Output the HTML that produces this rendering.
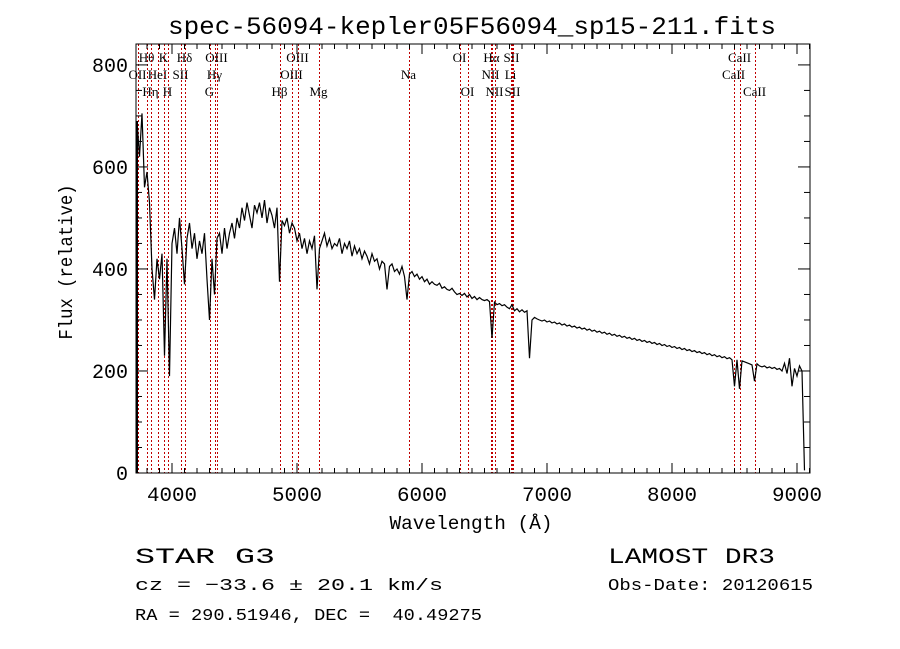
<!DOCTYPE html>
<html><head><meta charset="utf-8"><style>
html,body{margin:0;padding:0;background:#fff;width:900px;height:649px;overflow:hidden}
svg{display:block}
.m{font-family:"Liberation Mono",monospace}
.s{font-family:"Liberation Serif",serif}
</style></head><body>
<svg id="chart" width="900" height="649" viewBox="0 0 900 649">
<rect width="900" height="649" fill="#fff"/>
<text class="m" x="472" y="34" font-size="25" text-anchor="middle" textLength="608" lengthAdjust="spacingAndGlyphs">spec-56094-kepler05F56094_sp15-211.fits</text>
<g id="lines"></g>
<g id="axes"></g>
<g id="series"></g>
<text class="m" x="471" y="529" font-size="19" text-anchor="middle" textLength="163" lengthAdjust="spacingAndGlyphs">Wavelength (Å)</text>
<text class="m" transform="translate(72,262) rotate(-90)" font-size="19" text-anchor="middle" textLength="155" lengthAdjust="spacingAndGlyphs">Flux (relative)</text>
<text class="m" x="135" y="563" font-size="22" textLength="140" lengthAdjust="spacingAndGlyphs">STAR   G3</text>
<text class="m" x="608" y="563" font-size="22" textLength="167" lengthAdjust="spacingAndGlyphs">LAMOST DR3</text>
<text class="m" x="135" y="590" font-size="17" textLength="308" lengthAdjust="spacingAndGlyphs">cz = −33.6 ± 20.1 km/s</text>
<text class="m" x="608" y="590" font-size="17" textLength="205" lengthAdjust="spacingAndGlyphs">Obs-Date: 20120615</text>
<text class="m" x="135" y="620" font-size="17" textLength="347" lengthAdjust="spacingAndGlyphs" xml:space="preserve">RA = 290.51946, DEC =  40.49275</text>
</svg>
<script>
const startWave = 3720;
const waveStep = 20;
const flux = [
690,620,705,560,590,530,400,340,420,380,
430,230,420,190,450,480,430,500,440,370,
460,490,440,470,420,455,430,470,380,300,
420,350,460,470,430,480,440,470,490,460,
500,480,520,495,530,505,480,525,510,530,
500,535,490,520,505,480,520,375,495,485,
500,470,490,480,455,470,440,460,430,455,
440,465,360,440,455,470,445,460,440,450,
445,460,430,450,440,455,425,445,430,440,
420,435,425,410,430,415,420,400,415,410,
360,405,410,395,400,390,405,385,340,390,
395,385,390,380,385,375,380,370,375,370,
368,372,362,365,360,358,362,355,350,352,
348,352,345,350,342,346,340,344,340,338,
340,336,265,335,330,332,328,330,325,322,
330,318,322,316,320,315,318,225,300,305,
302,300,298,300,296,298,294,296,292,294,
290,292,288,290,286,288,284,286,282,284,
280,282,278,280,276,278,274,276,272,274,
270,272,268,270,266,268,264,266,262,264,
260,262,258,260,256,258,254,256,252,254,
250,252,248,250,246,248,244,246,242,244,
240,242,238,240,236,238,234,236,232,234,
230,232,228,230,226,228,224,226,222,170,
222,165,220,218,216,214,212,180,214,210,
208,210,206,208,205,207,203,205,200,215,
195,225,170,205,190,210,200,5
];
const xTicks = [4000,5000,6000,7000,8000,9000];
const yTicks = [0,200,400,600,800];
const lineWaves = [3727,3798,3835,3889,3934,3968,4072,4102,4304,4340,4363,4861,4959,5007,5175,5894,6300,6364,6548,6563,6583,6708,6716,6731,8498,8542,8662];
const lineLabels = ["OII","Hθ","Hη","HeI","K","H","SII","Hδ","G","Hγ","OIII","Hβ","OIII","OIII","Mg","Na","OI","OI","NII","Hα","NII","Li","SII","SII","CaII","CaII","CaII"];
const lineRows = [1,0,2,1,0,2,1,0,2,1,0,2,1,0,2,1,0,2,1,0,2,1,0,2,1,0,2];

const L=136,R=810,T=44,B=473,W0=3712,W1=9104,F0=0,F1=841;
const xs=w=>L+(w-W0)/(W1-W0)*(R-L);
const ys=f=>B-(f-F0)/(F1-F0)*(B-T);
const NS='http://www.w3.org/2000/svg';
function mk(tag,attrs,parent){const e=document.createElementNS(NS,tag);for(const k in attrs)e.setAttribute(k,attrs[k]);parent.appendChild(e);return e;}

const gl=document.getElementById('lines');
lineWaves.forEach((w,i)=>{
  const x=Math.round(xs(w))+0.5;
  const ln=mk('line',{x1:x,x2:x,y1:T,y2:B,stroke:'#c00000','stroke-width':1,'stroke-dasharray':'2,2'},gl);
  
  
  const t=mk('text',{x:x-1,y:62+lineRows[i]*17,'font-size':13,'text-anchor':'middle',class:'s'},gl);
  t.textContent=lineLabels[i];
  
  
});

const ga=document.getElementById('axes');
const frame=mk('rect',{x:L,y:T,width:R-L,height:B-T,fill:'none',stroke:'#000','stroke-width':1},ga);


for(let w=3800;w<=9100;w+=100){
  const maj=w%1000===0, len=maj?10:5, x=xs(w);
  mk('line',{x1:x,x2:x,y1:B,y2:B-len,stroke:'#000'},ga);
  mk('line',{x1:x,x2:x,y1:T,y2:T+len,stroke:'#000'},ga);
}
xTicks.forEach(w=>{
  const t=mk('text',{x:xs(w),y:501,'font-size':20,'text-anchor':'middle',class:'m',textLength:50,lengthAdjust:'spacingAndGlyphs'},ga);
  t.textContent=w;
  
  
});
for(let f=0;f<=840;f+=50){
  const maj=f%200===0,len=maj?12:6,y=ys(f);
  mk('line',{x1:L,x2:L+len,y1:y,y2:y,stroke:'#000'},ga);
  mk('line',{x1:R,x2:R-len,y1:y,y2:y,stroke:'#000'},ga);
}
yTicks.forEach(f=>{
  const t=mk('text',{x:128,y:ys(f)+7,'font-size':20,'text-anchor':'end',class:'m'},ga);
  t.textContent=f;
  
  
});

const gs=document.getElementById('series');
let d='';
flux.forEach((f,i)=>{const w=startWave+i*waveStep;d+=(i?'L':'M')+xs(w).toFixed(1)+','+ys(f).toFixed(1);});
const p=mk('path',{d:d,fill:'none',stroke:'#000','stroke-width':1.2},gs);


const edge=mk('line',{x1:L+1,x2:L+1,y1:B,y2:ys(flux[0]),stroke:'#000','stroke-width':2},gs);


</script>
</body></html>
